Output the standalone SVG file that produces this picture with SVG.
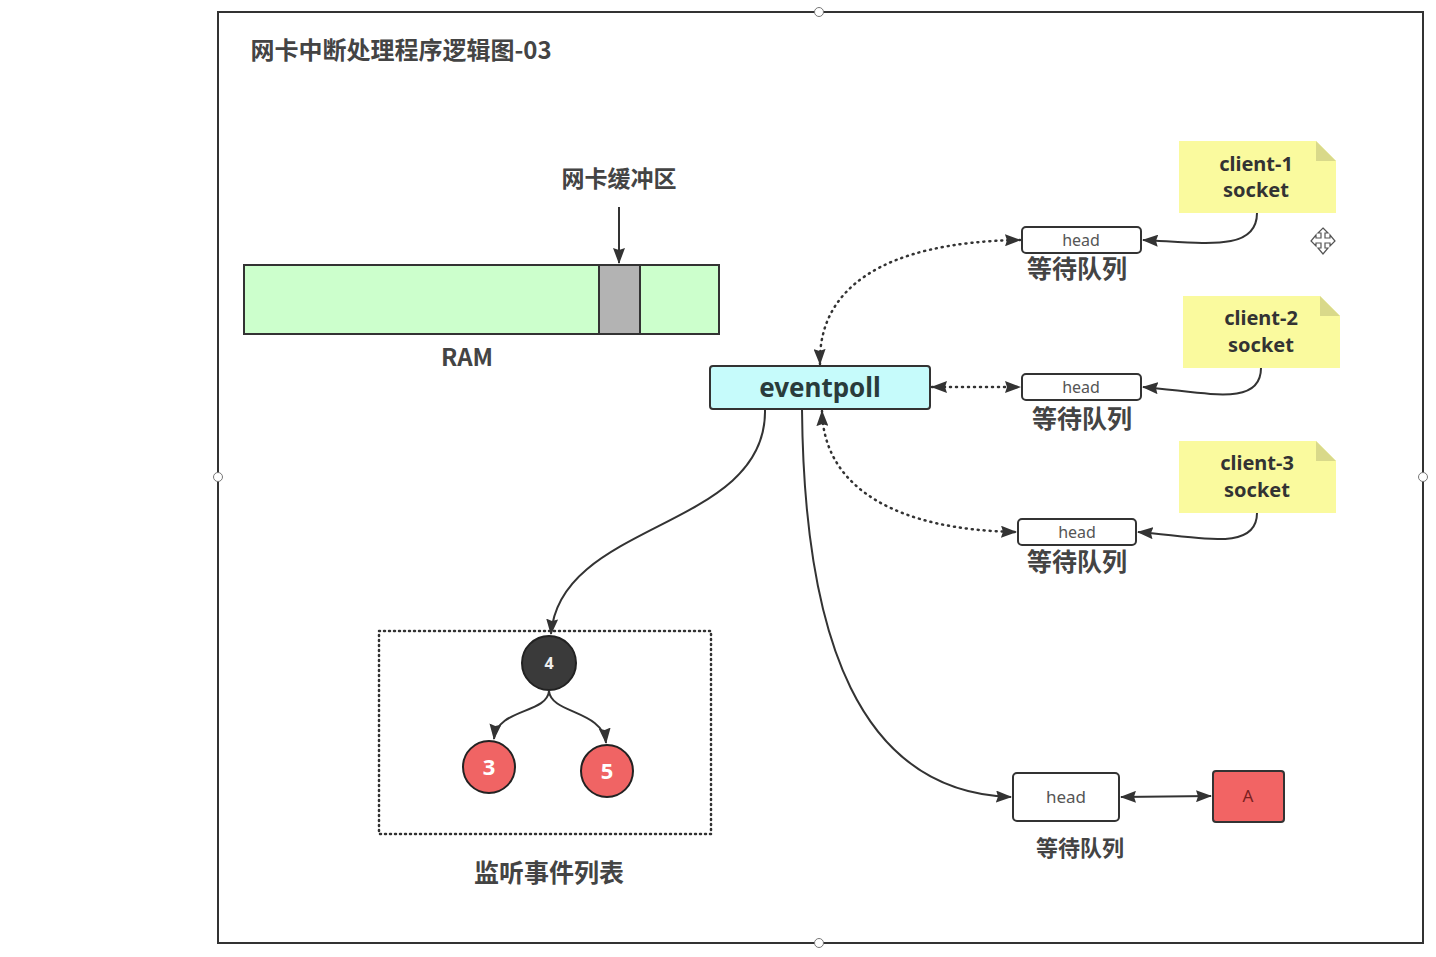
<svg xmlns="http://www.w3.org/2000/svg" width="1436" height="957" viewBox="0 0 1436 957">
<defs>
<marker id="arr" viewBox="0 0 16 12" refX="15" refY="6" markerWidth="16" markerHeight="12" markerUnits="userSpaceOnUse" orient="auto-start-reverse">
<path d="M0,0 L16,6 L0,12 L2,6 Z" fill="#333"/>
</marker>
<style>
text{font-family:"Noto Sans","Noto Sans CJK SC",sans-serif;fill:#333;text-anchor:middle}
.lbl{font-size:25px;font-weight:bold;fill:#444;font-family:"Noto Sans CJK SC",sans-serif}
.head{fill:#fff;stroke:#333;stroke-width:2}
.headt{font-size:16px;fill:#555}
.note{fill:#fafa9e}
.fold{fill:#d9d98a}
.notet{font-size:20px;font-weight:bold;fill:#333}
.con{fill:none;stroke:#333;stroke-width:2}
.dot{fill:none;stroke:#333;stroke-width:2.5;stroke-dasharray:1 5;stroke-linecap:round}
.handle{fill:#fff;stroke:#777;stroke-width:1}
</style>
</defs>
<rect x="0" y="0" width="1436" height="957" fill="#fff"/>
<g id="frame">
<rect x="218" y="12" width="1205" height="931" fill="none" stroke="#333" stroke-width="2"/>
<circle class="handle" cx="819" cy="12" r="4.5"/>
<circle class="handle" cx="218" cy="477" r="4.5"/>
<circle class="handle" cx="1423" cy="477" r="4.5"/>
<circle class="handle" cx="819" cy="943" r="4.5"/>
</g>
<g id="title"><text x="401" y="59" style="font-size:24px;font-weight:bold;fill:#444;font-family:'Noto Sans CJK SC',sans-serif">网卡中断处理程序逻辑图-03</text></g>
<g id="ram">
<rect x="244" y="265" width="475" height="69" fill="#ccffcc" stroke="#333" stroke-width="2"/>
<rect x="599" y="265" width="41" height="69" fill="#b3b3b3" stroke="#333" stroke-width="2"/>
<text class="lbl" x="467" y="366" style="font-size:24px">RAM</text>
</g>
<g id="nicbuf"><text class="lbl" x="619" y="187" style="font-size:23px">网卡缓冲区</text></g>
<g id="eventpoll">
<rect x="710" y="366" width="220" height="43" rx="3" fill="#c6fbfb" stroke="#333" stroke-width="2"/>
<text x="820" y="397" style="font-size:26px;font-weight:bold;fill:#2a3b3b">eventpoll</text>
</g>
<g id="client1">
<path class="note" d="M1179,141 H1316 L1336,161 V213 H1179 Z"/>
<path class="fold" d="M1316,141 L1336,161 H1316 Z"/>
<text class="notet" x="1256" y="171">client-1</text>
<text class="notet" x="1256" y="197">socket</text>
</g>
<g id="client2">
<path class="note" d="M1183,296 H1320 L1340,316 V368 H1183 Z"/>
<path class="fold" d="M1320,296 L1340,316 H1320 Z"/>
<text class="notet" x="1261" y="325">client-2</text>
<text class="notet" x="1261" y="352">socket</text>
</g>
<g id="client3">
<path class="note" d="M1179,441 H1316 L1336,461 V513 H1179 Z"/>
<path class="fold" d="M1316,441 L1336,461 H1316 Z"/>
<text class="notet" x="1257" y="470">client-3</text>
<text class="notet" x="1257" y="497">socket</text>
</g>
<g id="queue1">
<rect class="head" x="1022" y="227" width="119" height="26" rx="4"/>
<text class="headt" x="1081" y="246">head</text>
<text class="lbl" x="1077" y="278">等待队列</text>
</g>
<g id="queue2">
<rect class="head" x="1022" y="374" width="119" height="26" rx="4"/>
<text class="headt" x="1081" y="393">head</text>
<text class="lbl" x="1082" y="428">等待队列</text>
</g>
<g id="queue3">
<rect class="head" x="1018" y="519" width="118" height="26" rx="4"/>
<text class="headt" x="1077" y="538">head</text>
<text class="lbl" x="1077" y="571">等待队列</text>
</g>
<g id="queue4">
<rect class="head" x="1013" y="773" width="106" height="48" rx="4"/>
<text class="headt" x="1066" y="803" style="font-size:17px">head</text>
<text class="lbl" x="1080" y="856" style="font-size:22px">等待队列</text>
</g>
<g id="nodeA">
<rect x="1213" y="771" width="71" height="51" rx="3" fill="#f26464" stroke="#333" stroke-width="2"/>
<text x="1248" y="802" style="font-size:17px;fill:#7a1f1f">A</text>
</g>
<g id="tree">
<rect x="379" y="631" width="332" height="203" fill="none" stroke="#333" stroke-width="2.5" stroke-dasharray="1 4" stroke-linecap="round"/>
<circle cx="549" cy="663" r="27" fill="#3a3a3a" stroke="#222" stroke-width="2"/>
<text x="549" y="669" style="font-size:16px;font-weight:bold;fill:#eee">4</text>
<circle cx="489" cy="767" r="26" fill="#f06464" stroke="#222" stroke-width="2"/>
<text x="489" y="775" style="font-size:22px;font-weight:bold;fill:#fff">3</text>
<circle cx="607" cy="771" r="26" fill="#f06464" stroke="#222" stroke-width="2"/>
<text x="607" y="779" style="font-size:22px;font-weight:bold;fill:#fff">5</text>
<text class="lbl" x="549" y="882">监听事件列表</text>
</g>
<g id="cursor" fill="#fff" stroke="#555" stroke-width="1.2">
<path d="M1323,228 L1328,233 H1325 V238 H1330 V235 L1335,241 L1330,246 V243 H1325 V248 H1328 L1323,254 L1318,248 H1321 V243 H1316 V246 L1311,241 L1316,235 V238 H1321 V233 H1318 Z"/>
</g>
<g id="connectors">
<path class="con" d="M619,207 V263" marker-end="url(#arr)"/>
<path class="con" d="M1257,213 C1257,252 1205,243 1143,240" marker-end="url(#arr)"/>
<path class="con" d="M1261,368 C1261,408 1205,392 1143,387" marker-end="url(#arr)"/>
<path class="con" d="M1257,513 C1257,552 1200,537 1138,532" marker-end="url(#arr)"/>
<path class="dot" d="M820,364 C818,290 880,242 1020,240" marker-start="url(#arr)" marker-end="url(#arr)"/>
<path class="dot" d="M932,387 H1020" marker-start="url(#arr)" marker-end="url(#arr)"/>
<path class="dot" d="M822,411 C824,490 900,530 1016,532" marker-start="url(#arr)" marker-end="url(#arr)"/>
<path class="con" d="M765,409 C768,530 560,520 551,634" marker-end="url(#arr)"/>
<path class="con" d="M802,409 C804,640 860,792 1011,797" marker-end="url(#arr)"/>
<path class="con" d="M1121,797 L1211,796" marker-start="url(#arr)" marker-end="url(#arr)"/>
<path class="con" d="M549,691 C547,714 497,708 494,739" marker-end="url(#arr)"/>
<path class="con" d="M549,691 C551,714 603,710 606,743" marker-end="url(#arr)"/>
</g>
</svg>
